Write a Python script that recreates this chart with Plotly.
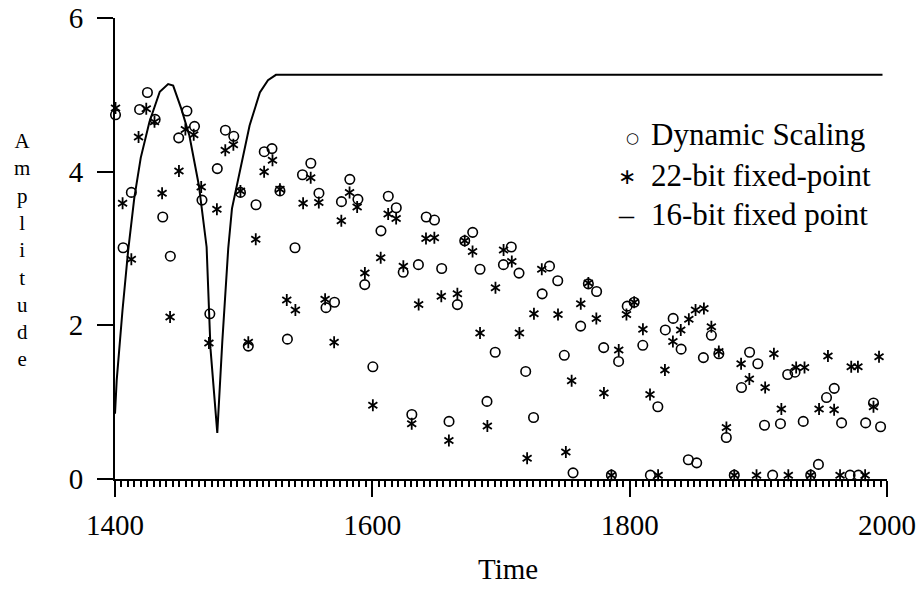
import plotly.graph_objects as go

# ---------------- data ----------------
ds_time = [1400.4, 1406.3, 1412.7, 1419.1, 1425.2, 1431.2, 1437.1, 1443.0, 1449.5, 1455.9,
           1461.8, 1467.6, 1473.7, 1479.5, 1485.8, 1492.3, 1497.5, 1503.6, 1509.6, 1516.0,
           1522.0, 1528.2, 1534.0, 1539.9, 1545.7, 1552.2, 1558.5, 1564.0, 1570.6, 1576.0,
           1582.5, 1588.8, 1594.1, 1600.4, 1606.7, 1612.4, 1618.6, 1624.0, 1630.7, 1635.8,
           1641.9, 1648.3, 1653.9, 1659.6, 1666.1, 1671.8, 1678.0, 1683.7, 1689.1, 1695.5,
           1701.9, 1708.0, 1714.0, 1719.2, 1725.3, 1732.0, 1737.7, 1744.1, 1749.2, 1756.0,
           1761.9, 1767.9, 1774.3, 1779.8, 1785.8, 1791.4, 1798.1, 1803.5, 1810.2, 1816.1,
           1821.9, 1827.7, 1833.8, 1840.0, 1845.6, 1852.1, 1857.3, 1863.5, 1869.3, 1875.1,
           1881.3, 1886.9, 1893.2, 1899.6, 1904.8, 1911.1, 1917.2, 1922.8, 1928.5, 1934.9,
           1940.7, 1946.7, 1953.0, 1959.0, 1964.7, 1971.3, 1977.8, 1983.4, 1989.5, 1995.0]
ds_amp = [4.74, 3.01, 3.73, 4.81, 5.03, 4.68, 3.41, 2.90, 4.44, 4.79,
          4.59, 3.63, 2.15, 4.04, 4.54, 4.46, 3.73, 1.73, 3.57, 4.26,
          4.30, 3.75, 1.82, 3.01, 3.96, 4.11, 3.72, 2.23, 2.30, 3.61,
          3.90, 3.64, 2.53, 1.46, 3.23, 3.68, 3.53, 2.69, 0.84, 2.79,
          3.41, 3.37, 2.74, 0.75, 2.27, 3.10, 3.21, 2.73, 1.01, 1.65,
          2.79, 3.02, 2.68, 1.40, 0.80, 2.41, 2.77, 2.58, 1.61, 0.08,
          1.99, 2.54, 2.44, 1.71, 0.05, 1.53, 2.25, 2.30, 1.74, 0.05,
          0.94, 1.94, 2.09, 1.69, 0.25, 0.21, 1.58, 1.87, 1.63, 0.54,
          0.05, 1.19, 1.65, 1.50, 0.70, 0.05, 0.72, 1.36, 1.39, 0.75,
          0.05, 0.19, 1.06, 1.18, 0.73, 0.05, 0.05, 0.73, 0.99, 0.68]

fx22_time = [1400.4, 1405.9, 1412.7, 1418.3, 1424.3, 1430.7, 1436.6, 1442.8, 1449.7, 1454.7,
             1461.2, 1467.0, 1473.0, 1479.2, 1485.7, 1492.0, 1497.5, 1503.6, 1509.4, 1515.9,
             1522.4, 1528.2, 1533.5, 1540.2, 1546.2, 1552.1, 1558.4, 1563.3, 1570.3, 1575.9,
             1582.3, 1588.2, 1594.2, 1600.4, 1606.5, 1612.3, 1618.5, 1624.1, 1630.6, 1636.0,
             1641.7, 1648.2, 1653.6, 1659.5, 1666.1, 1671.8, 1677.9, 1683.7, 1689.4, 1695.7,
             1702.0, 1708.4, 1714.3, 1720.3, 1725.6, 1731.7, 1744.3, 1750.4, 1754.9, 1762.0,
             1767.9, 1774.1, 1780.0, 1785.8, 1791.5, 1797.5, 1803.5, 1810.3, 1815.8, 1822.1,
             1827.4, 1833.6, 1839.7, 1846.0, 1851.2, 1857.7, 1863.5, 1869.3, 1875.2, 1881.3,
             1886.6, 1893.0, 1898.6, 1905.3, 1912.1, 1917.9, 1923.3, 1929.4, 1935.9, 1940.7,
             1947.2, 1954.1, 1958.9, 1963.5, 1972.2, 1977.4, 1983.0, 1989.5, 1993.8]
fx22_amp = [4.83, 3.59, 2.86, 4.45, 4.82, 4.65, 3.72, 2.11, 4.01, 4.55,
            4.48, 3.80, 1.77, 3.51, 4.28, 4.35, 3.75, 1.78, 3.12, 4.00,
            4.15, 3.77, 2.33, 2.20, 3.59, 3.92, 3.60, 2.34, 1.78, 3.36,
            3.73, 3.54, 2.68, 0.96, 2.88, 3.45, 3.39, 2.77, 0.72, 2.27,
            3.13, 3.14, 2.38, 0.50, 2.41, 3.10, 2.96, 1.90, 0.69, 2.49,
            2.98, 2.83, 1.90, 0.27, 2.15, 2.73, 2.14, 0.35, 1.28, 2.28,
            2.55, 2.09, 1.12, 0.05, 1.68, 2.14, 2.30, 1.95, 1.10, 0.05,
            1.42, 1.79, 1.94, 2.08, 2.20, 2.22, 1.98, 1.66, 0.67, 0.05,
            1.50, 1.30, 0.05, 1.19, 1.63, 0.91, 0.05, 1.45, 1.45, 0.05,
            0.91, 1.60, 0.90, 0.05, 1.46, 1.46, 0.05, 0.94, 1.59]

fx16_time = [1400.0, 1401.3, 1405.8, 1410.2, 1415.0, 1420.0, 1426.8, 1434.8, 1441.3, 1445.2,
             1451.5, 1457.8, 1465.2, 1471.2, 1474.2, 1479.5, 1483.4, 1488.0, 1490.9, 1497.7,
             1504.6, 1512.6, 1518.9, 1525.1, 1996.5]
fx16_amp = [0.85, 1.28, 2.19, 2.97, 3.66, 4.18, 4.65, 5.04, 5.14, 5.12,
            4.82, 4.47, 3.82, 3.02, 1.70, 0.60, 1.79, 3.00, 3.52, 4.04,
            4.60, 5.03, 5.19, 5.26, 5.26]

x_range = [1400, 2000]
y_range = [0, 6]
x_major_step, x_minor_step = 200, 5
y_major_step = 2
legend_labels = ["Dynamic Scaling", "22-bit fixed-point", "16-bit fixed point"]
legend_glyphs = ["\u25cb", "\u2217", "\u2013"]
x_title = "Time"
y_title = "Amplitude"

# ---------------- layout geometry ----------------
W, H = 923, 590
ML, MR, MT, MB = 115, 36, 18, 111
PW, PH = W - ML - MR, H - MT - MB

def pxx(x):
    return (x - ML) / PW

def pxy(y):
    return (H - MB - y) / PH

SERIF = "Liberation Serif, Times New Roman, serif"
BLACK = "#000000"

fig = go.Figure()

fig.add_trace(go.Scatter(
    x=fx16_time, y=fx16_amp, mode="lines", name=legend_labels[2],
    line=dict(color=BLACK, width=2), showlegend=False))

fig.add_trace(go.Scatter(
    x=ds_time, y=ds_amp, mode="markers", name=legend_labels[0],
    marker=dict(symbol="circle-open", size=9.5, color=BLACK,
                line=dict(color=BLACK, width=1.6)),
    showlegend=False, cliponaxis=False))

for sym in ["y-up-open", "y-down-open"]:
    fig.add_trace(go.Scatter(
        x=fx22_time, y=fx22_amp, mode="markers", name=legend_labels[1],
        legendgroup="fx22",
        marker=dict(symbol=sym, size=7.5, color=BLACK,
                    line=dict(color=BLACK, width=1.8)),
        showlegend=False, cliponaxis=False))

annotations = []

# legend drawn as text (glyph + label)
legend_base = [145, 186, 225]
glyph_x = [632, 627, 626]
glyph_y = [138, 176, 214]
glyph_fonts = [dict(family="DejaVu Sans", size=15, color=BLACK),
               dict(family="DejaVu Sans", size=22, color=BLACK),
               dict(family=SERIF, size=30, color=BLACK)]
for lab, base, g, gx, gy, gf in zip(legend_labels, legend_base, legend_glyphs,
                                    glyph_x, glyph_y, glyph_fonts):
    annotations.append(dict(
        text=lab, x=pxx(649), y=pxy(base - 10.5), xref="paper", yref="paper",
        xanchor="left", yanchor="middle", showarrow=False,
        font=dict(family=SERIF, size=31, color=BLACK)))
    annotations.append(dict(
        text=g, x=pxx(gx), y=pxy(gy), xref="paper", yref="paper",
        xanchor="center", yanchor="middle", showarrow=False, font=gf))

# x-axis title
annotations.append(dict(
    text=x_title, x=pxx(508), y=pxy(569), xref="paper", yref="paper",
    xanchor="center", yanchor="middle", showarrow=False,
    font=dict(family=SERIF, size=29, color=BLACK)))

# y-axis title, letters stacked vertically in one text block
annotations.append(dict(
    text="<br>".join(list(y_title)), x=pxx(22), y=pxy(250), xref="paper", yref="paper",
    xanchor="center", yanchor="middle", align="center", showarrow=False,
    font=dict(family=SERIF, size=21, color=BLACK)))

fig.update_layout(
    width=W, height=H,
    margin=dict(l=ML, r=MR, t=MT, b=MB, pad=0, autoexpand=False),
    paper_bgcolor="white", plot_bgcolor="white",
    showlegend=False,
    annotations=annotations,
    xaxis=dict(
        range=x_range, tickmode="linear", tick0=x_range[0], dtick=x_major_step,
        showline=True, linecolor=BLACK, linewidth=2,
        ticks="outside", ticklen=16, tickwidth=2, tickcolor=BLACK,
        ticklabelstandoff=3, automargin=False, showgrid=False, zeroline=False,
        tickfont=dict(family=SERIF, size=29, color=BLACK),
        minor=dict(dtick=x_minor_step, ticks="outside", ticklen=6, tickwidth=1.5,
                   tickcolor=BLACK),
    ),
    yaxis=dict(
        range=y_range, tickmode="linear", tick0=y_range[0], dtick=y_major_step,
        showline=True, linecolor=BLACK, linewidth=2,
        ticks="outside", ticklen=16, tickwidth=2, tickcolor=BLACK,
        ticklabelstandoff=8, automargin=False, showgrid=False, zeroline=False,
        tickfont=dict(family=SERIF, size=29, color=BLACK),
    ),
)

fig.write_html("out.html")
